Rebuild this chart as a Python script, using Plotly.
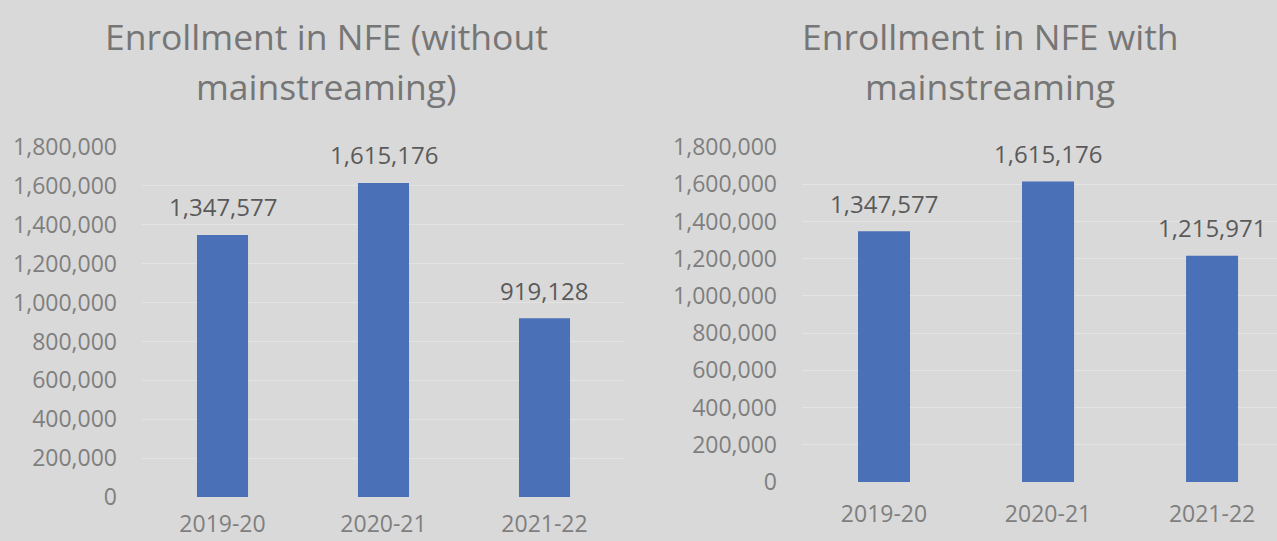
import plotly.graph_objects as go

categories = ["2019-20", "2020-21", "2021-22"]
without_main = [1347577, 1615176, 919128]
with_main = [1347577, 1615176, 1215971]
title_left = ["Enrollment in NFE (without", "mainstreaming)"]
title_right = ["Enrollment in NFE with", "mainstreaming"]
yticks = [0, 200000, 400000, 600000, 800000, 1000000, 1200000, 1400000, 1600000, 1800000]

FONT = "Open Sans, sans-serif"
BG = "#d9d9d9"
BAR = "#4a71b7"
TICK = "#7f7f7f"
LABEL = "#5a5a5a"
TITLE = "#767676"
GRID = "#e3e3e3"

fig = go.Figure()
fig.add_trace(go.Bar(x=categories, y=without_main, marker=dict(color=BAR, line=dict(width=0)),
                     width=0.317, xaxis="x", yaxis="y", hoverinfo="skip"))
fig.add_trace(go.Bar(x=categories, y=with_main, marker=dict(color=BAR, line=dict(width=0)),
                     width=0.317, xaxis="x2", yaxis="y2", hoverinfo="skip"))

W, H = 1277, 541

def ax_common():
    return dict(tickfont=dict(family=FONT, size=23, color=TICK), showline=False, zeroline=False,
                ticks="", automargin=False)

yax = dict(range=[0, 1800000], tickvals=yticks, tickformat=",d", showgrid=True, gridcolor=GRID,
           gridwidth=1, ticklabelstandoff=24, **ax_common())

fig.update_layout(
    width=W, height=H, autosize=False, paper_bgcolor=BG, plot_bgcolor=BG, showlegend=False,
    margin=dict(l=0, r=0, t=0, b=0, pad=0),
    xaxis=dict(domain=[142 / W, 625 / W], range=[-0.5, 2.5], anchor="y", type="category",
               showgrid=False, ticklabelstandoff=11, **ax_common()),
    yaxis=dict(domain=[(H - 497) / H, (H - 147) / H], anchor="x", **yax),
    xaxis2=dict(domain=[802 / W, 1.0], range=[-0.5, 2.396], anchor="y2", type="category",
                showgrid=False, ticklabelstandoff=16, **ax_common()),
    yaxis2=dict(domain=[(H - 482) / H, (H - 147) / H], anchor="x2", **yax),
)

ann = []
for xr, yr, vals in (("x", "y", without_main), ("x2", "y2", with_main)):
    for c, v in zip(categories, vals):
        ann.append(dict(x=c, y=v, xref=xr, yref=yr, text=f"{v:,}", showarrow=False,
                        yanchor="middle", yshift=28,
                        font=dict(family=FONT, size=24, color=LABEL)))

for cx, lines in ((326 / W, title_left), (990 / W, title_right)):
    for i, t in enumerate(lines):
        ann.append(dict(x=cx, y=(H - 36 - 50 * i) / H, xref="paper", yref="paper", text=t,
                        showarrow=False, xanchor="center", yanchor="middle",
                        font=dict(family=FONT, size=35.5, color=TITLE)))

fig.update_layout(annotations=ann)
fig.write_html("out.html", config={"responsive": False, "displayModeBar": False},
               post_script="document.body.style.margin='0';document.body.style.overflow='hidden';")
